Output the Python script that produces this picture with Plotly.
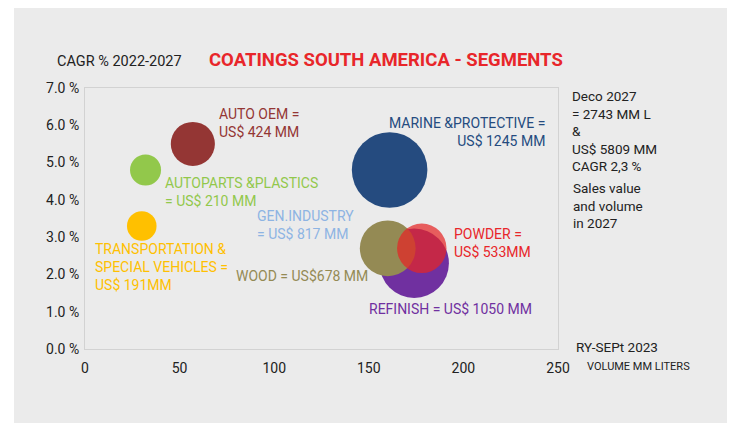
import plotly.graph_objects as go

# ---- data ----
segments = ["AUTO OEM", "AUTOPARTS & PLASTICS", "TRANSPORTATION & SPECIAL VEHICLES",
            "MARINE & PROTECTIVE", "REFINISH", "WOOD", "POWDER"]
volume_mm_l = [57, 32, 30, 161, 174, 160, 178]
cagr_pct = [5.5, 4.8, 3.3, 4.8, 2.3, 2.7, 2.7]
sales_usd_mm = [424, 210, 191, 1245, 1050, 678, 533]
colors = ["#943634", "#92C84B", "#FFC000", "#254B7F", "#7030A0", "#948A54", "rgba(228,38,38,0.72)"]

x_ticks = [0, 50, 100, 150, 200, 250]
y_ticks = [0, 1, 2, 3, 4, 5, 6, 7]
y_ticktext = [f"{v:.1f} %" for v in y_ticks]

labels = [
    ("AUTO OEM =<br>US$ 424 MM", "#943634", 70, 6.06, "left"),
    ("AUTOPARTS &PLASTICS<br>= US$ 210 MM", "#92C84B", 41, 4.22, "left"),
    ("TRANSPORTATION &<br>SPECIAL VEHICLES =<br>US$ 191MM", "#FFC000", 4.2, 2.19, "left"),
    ("GEN.INDUSTRY<br>= US$ 817 MM", "#8EB4E3", 90, 3.32, "left"),
    ("WOOD = US$678 MM", "#948A54", 79, 1.95, "left"),
    ("MARINE &PROTECTIVE =<br>US$ 1245 MM", "#254B7F", 244, 5.82, "right"),
    ("POWDER =<br>US$ 533MM", "#E8262A", 194, 2.83, "left"),
    ("REFINISH = US$ 1050 MM", "#7030A0", 149, 1.07, "left"),
]

FONT = "Roboto"
OFF = 8  # page body margin offset
W, H = 735 - OFF, 423 - OFF
L, T = 85 - OFF, 88 - OFF
R = W - (558 - OFF)
B = H - (349 - OFF)

fig = go.Figure()
for i in range(len(segments)):
    fig.add_trace(go.Scatter(
        x=[volume_mm_l[i]], y=[cagr_pct[i]], mode="markers", name=segments[i],
        marker=dict(size=[sales_usd_mm[i]], sizemode="area", sizeref=0.436,
                    color=colors[i], opacity=1, line=dict(width=0)),
        hoverinfo="skip", showlegend=False, cliponaxis=False))

for text, col, lx, ly, anchor in labels:
    fig.add_annotation(x=lx, y=ly, xref="x", yref="y", text=text, showarrow=False,
                       xanchor=anchor, yanchor="middle", align=anchor,
                       font=dict(family=FONT, size=14, color=col))

pw = W - L - R
ph = H - T - B
def px(xp):  # page pixel -> paper
    return (xp - OFF - L) / pw
def py(yp):
    return (H - B - (yp - OFF)) / ph

dark = "#222222"
fig.add_annotation(x=px(55), y=py(61), xref="paper", yref="paper", text="CAGR % 2022-2027",
                   showarrow=False, xanchor="left", yanchor="middle",
                   font=dict(family=FONT, size=14.5, color=dark))
fig.add_annotation(x=px(207), y=py(60), xref="paper", yref="paper",
                   text="<b>COATINGS SOUTH AMERICA - SEGMENTS</b>",
                   showarrow=False, xanchor="left", yanchor="middle",
                   font=dict(family=FONT, size=18.5, color="#E8262A"))
fig.add_annotation(x=px(570), y=py(86), xref="paper", yref="paper",
                   text="Deco 2027<br>= 2743 MM L<br>&<br>US$ 5809 MM<br>CAGR 2,3 %",
                   showarrow=False, xanchor="left", yanchor="top", align="left",
                   font=dict(family=FONT, size=13.5, color=dark))
fig.add_annotation(x=px(571), y=py(178), xref="paper", yref="paper",
                   text="Sales value<br>and volume<br>in 2027",
                   showarrow=False, xanchor="left", yanchor="top", align="left",
                   font=dict(family=FONT, size=13.5, color=dark))
fig.add_annotation(x=px(574), y=py(347), xref="paper", yref="paper", text="RY-SEPt 2023",
                   showarrow=False, xanchor="left", yanchor="middle",
                   font=dict(family=FONT, size=13.5, color=dark))
fig.add_annotation(x=px(585), y=py(366), xref="paper", yref="paper", text="VOLUME MM LITERS",
                   showarrow=False, xanchor="left", yanchor="middle",
                   font=dict(family=FONT, size=11, color=dark))

# white strip left of the gray panel
fig.add_shape(type="rect", xref="paper", yref="paper", x0=px(-20), x1=px(14), y0=py(H + 40), y1=py(-20),
              fillcolor="white", line=dict(width=0), layer="below")

axis_common = dict(showgrid=False, zeroline=False, showline=True, linecolor="#D2D2D2",
                   linewidth=1, mirror=True, ticks="",
                   tickfont=dict(family=FONT, size=14, color=dark))
fig.update_xaxes(range=[0, 250], tickvals=x_ticks, ticklabelstandoff=6, **axis_common)
fig.update_yaxes(range=[0, 7], tickvals=y_ticks, ticktext=y_ticktext, ticklabelstandoff=2,
                 **axis_common)

fig.update_layout(width=W, height=H, margin=dict(l=L, r=R, t=T, b=B),
                  paper_bgcolor="#EBEBEB", plot_bgcolor="#EBEBEB",
                  font=dict(family=FONT))
fig.write_html("out.html")
